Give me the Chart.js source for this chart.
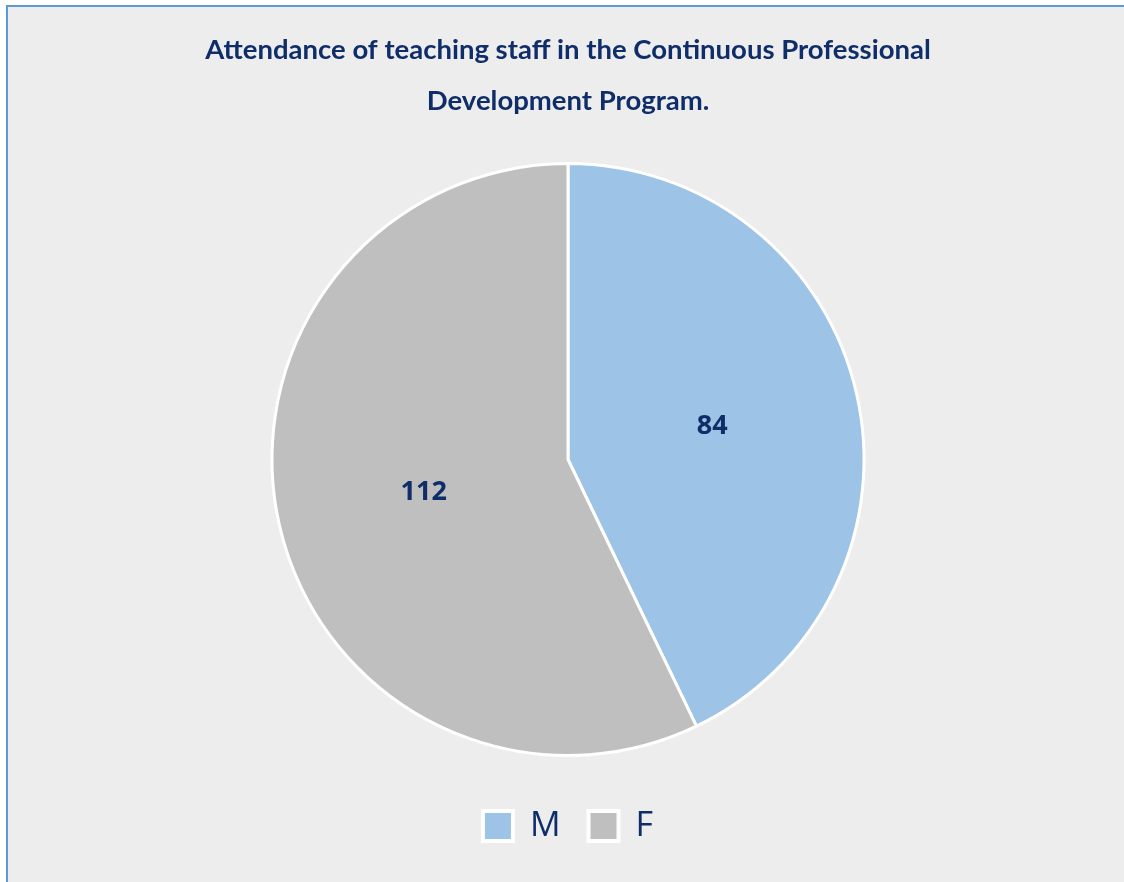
<!DOCTYPE html>
<html>
<head>
<meta charset="utf-8">
<script src="https://cdn.jsdelivr.net/npm/chart.js@4.4.0/dist/chart.umd.min.js"></script>
<style>
    html, body { margin: 0; padding: 0; background: #ffffff; overflow: hidden; }
    #frame {
        position: absolute; left: 6px; top: 5px; width: 1200px; height: 1000px;
        background: #ededed; border-left: 2px solid #5b9bd5; border-top: 2px solid #5b9bd5;
    }
    #wrap { position: absolute; left: 0; top: 0; width: 1124px; height: 882px; }
</style>
</head>
<body>
<div id="frame"></div>
<div id="wrap"><canvas id="chart" width="1124" height="882"></canvas></div>
<script>
const titleLines = ['Attendance of teaching staff in the Continuous Professional', 'Development Program.'];
const genders = ['M', 'F'];
const attendance = [84, 112];
const sliceColors = ['#9dc3e6', '#bfbfbf'];

const navy = '#0f2d69';

// draws the value in the middle of each slice
const sliceLabels = {
    id: 'sliceLabels',
    afterDatasetsDraw(chart) {
        const ctx = chart.ctx;
        const meta = chart.getDatasetMeta(0);
        ctx.save();
        ctx.font = 'bold 27px "Noto Sans"';
        ctx.fillStyle = navy;
        ctx.textAlign = 'center';
        ctx.textBaseline = 'middle';
        meta.data.forEach((arc, i) => {
            const pos = arc.tooltipPosition();
            ctx.fillText(String(chart.data.datasets[0].data[i]), pos.x, pos.y);
        });
        ctx.restore();
    }
};

new Chart(document.getElementById('chart'), {
    type: 'pie',
    data: {
        labels: genders,
        datasets: [
            {
                data: attendance,
                backgroundColor: sliceColors,
                borderColor: '#ffffff',
                borderWidth: 3,
                radius: 296
            }
        ]
    },
    options: {
        responsive: false,
        animation: false,
        layout: {
            padding: { left: 12, bottom: 29 }
        },
        plugins: {
            title: {
                display: true,
                text: titleLines,
                color: navy,
                font: { family: 'Lato', size: 27.5, weight: 'bold', lineHeight: 1.855 },
                padding: { top: 25, bottom: 11 }
            },
            legend: {
                position: 'bottom',
                labels: {
                    color: navy,
                    boxWidth: 30,
                    boxHeight: 30,
                    padding: 28,
                    font: { family: 'Open Sans', size: 34 },
                    generateLabels(chart) {
                        const items = Chart.overrides.pie.plugins.legend.labels.generateLabels(chart);
                        items.forEach(item => { item.lineWidth = 4; });
                        return items;
                    }
                }
            },
            tooltip: { enabled: false }
        }
    },
    plugins: [sliceLabels]
});
</script>
</body>
</html>
